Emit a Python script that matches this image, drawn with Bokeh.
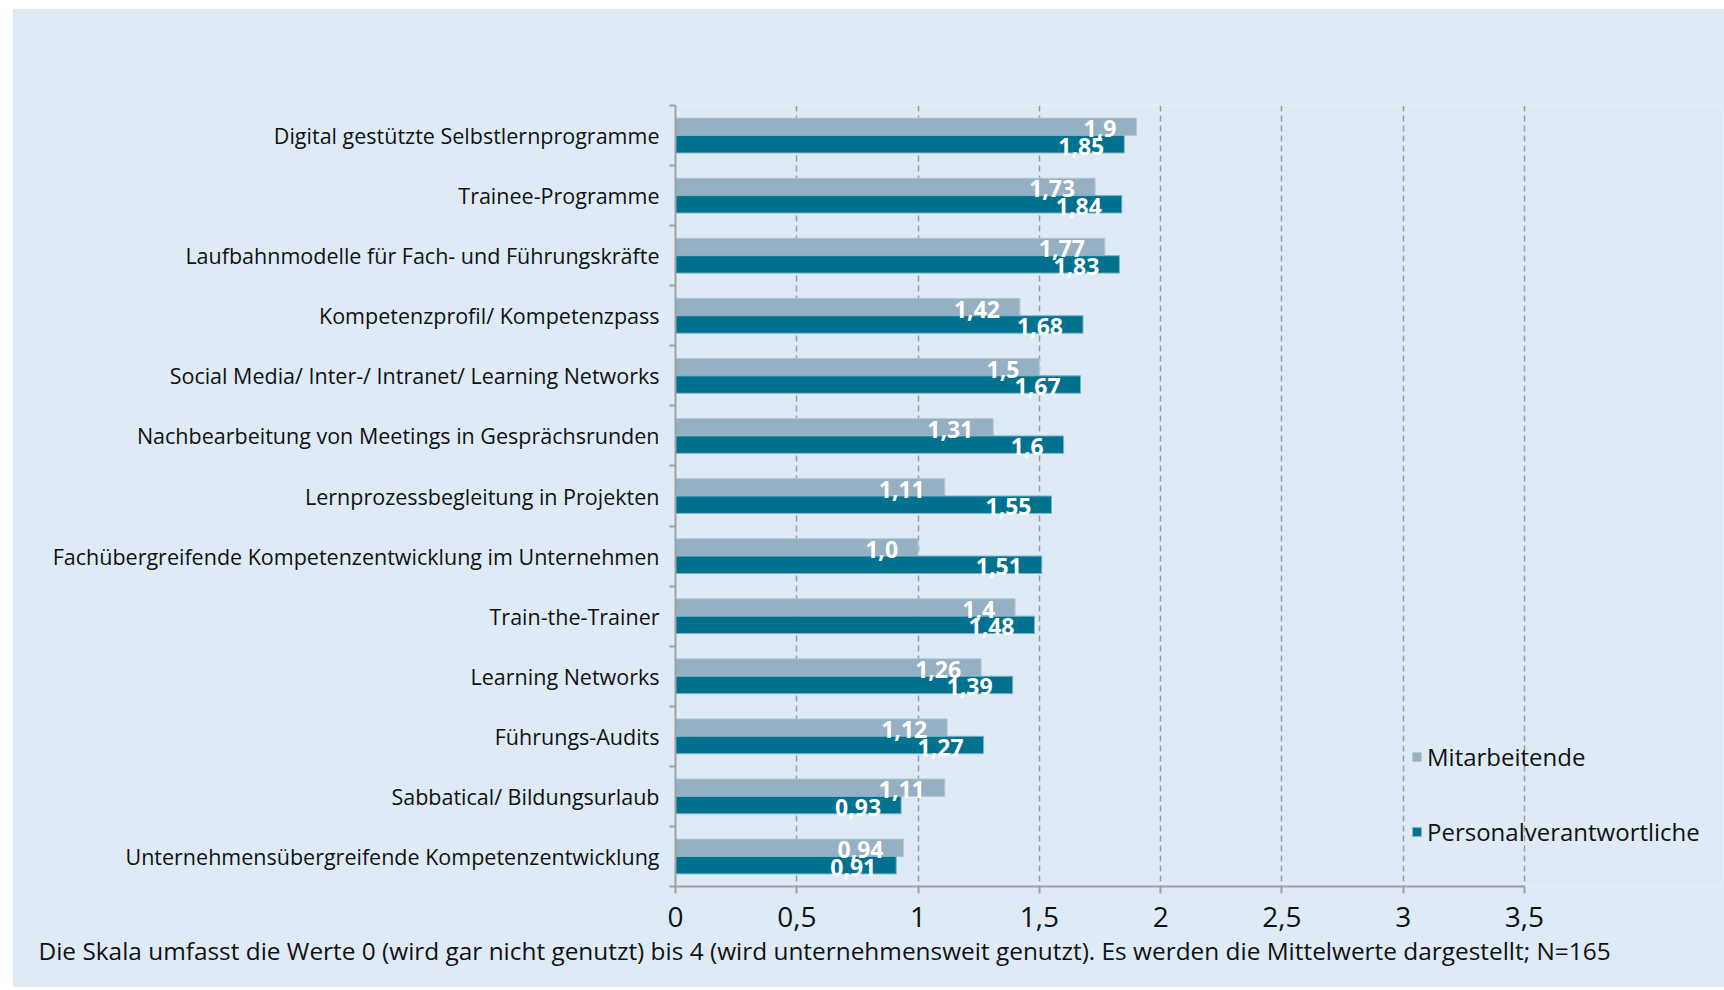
from bokeh.plotting import figure
from bokeh.models import (Range1d, FixedTicker, ColumnDataSource, Legend, LegendItem, Title)
from bokeh.core.properties import value
from bokeh.embed import file_html
from bokeh.resources import INLINE

categories = [
    "Digital gestützte Selbstlernprogramme",
    "Trainee-Programme",
    "Laufbahnmodelle für Fach- und Führungskräfte",
    "Kompetenzprofil/ Kompetenzpass",
    "Social Media/ Inter-/ Intranet/ Learning Networks",
    "Nachbearbeitung von Meetings in Gesprächsrunden",
    "Lernprozessbegleitung in Projekten",
    "Fachübergreifende Kompetenzentwicklung im Unternehmen",
    "Train-the-Trainer",
    "Learning Networks",
    "Führungs-Audits",
    "Sabbatical/ Bildungsurlaub",
    "Unternehmensübergreifende Kompetenzentwicklung",
]
mitarbeitende = [1.9, 1.73, 1.77, 1.42, 1.5, 1.31, 1.11, 1.0, 1.4, 1.26, 1.12, 1.11, 0.94]
personal = [1.85, 1.84, 1.83, 1.68, 1.67, 1.6, 1.55, 1.51, 1.48, 1.39, 1.27, 0.93, 0.91]
mitarbeitende_labels = ["1,9", "1,73", "1,77", "1,42", "1,5", "1,31", "1,11", "1,0", "1,4", "1,26", "1,12", "1,11", "0,94"]
personal_labels = ["1,85", "1,84", "1,83", "1,68", "1,67", "1,6", "1,55", "1,51", "1,48", "1,39", "1,27", "0,93", "0,91"]
xticks = [0, 0.5, 1, 1.5, 2, 2.5, 3, 3.5]
xtick_labels = ["0", "0,5", "1", "1,5", "2", "2,5", "3", "3,5"]
series_names = ["Mitarbeitende", "Personalverantwortliche"]
footnote = ("Die Skala umfasst die Werte 0 (wird gar nicht genutzt) bis 4 "
            "(wird unternehmensweit genutzt). Es werden die Mittelwerte dargestellt; N=165")

FONT = "Open Sans"
BG = "#DEEBF6"
GRAY = "#96B0C3"
TEAL = "#00728F"
AXIS = "#A0A0A0"

# page geometry (pixels)
OX, OY = 12, 8                # top-left of the light-blue panel
W, H = 1712, 979
FRAME_L, FRAME_T, FRAME_B = 675, 105, 886
AXIS_END_PX = 1524            # pixel position of the value 3.5
FRAME_R = 1722
x_max = 3.5
x_end = x_max * (FRAME_R - FRAME_L) / (AXIS_END_PX - FRAME_L)

n = len(categories)
bar_h = 0.29
centers = [i + 0.5 for i in range(n)]

src_m = ColumnDataSource(dict(y=[c - bar_h / 2 for c in centers], x=mitarbeitende, lab=mitarbeitende_labels))
src_p = ColumnDataSource(dict(y=[c + bar_h / 2 for c in centers], x=personal, lab=personal_labels))

p = figure(width=W, height=H, output_backend="svg", toolbar_location=None,
           x_range=Range1d(0, x_end), y_range=Range1d(n, 0),
           min_border_left=FRAME_L - OX, min_border_right=OX + W - FRAME_R,
           min_border_top=FRAME_T - OY, min_border_bottom=OY + H - FRAME_B)
p.margin = (OY, 0, 0, OX)
p.background_fill_color = BG
p.border_fill_color = BG
p.outline_line_color = None

r_m = p.hbar(y="y", right="x", left=0, height=bar_h, source=src_m,
             fill_color=GRAY, line_color="#B4C8D6", line_width=1)
r_p = p.hbar(y="y", right="x", left=0, height=bar_h, source=src_p,
             fill_color=TEAL, line_color="#7FB2C4", line_width=1)

for src in (src_m, src_p):
    p.text(x="x", y="y", text="lab", source=src, text_align="right", text_baseline="middle",
           x_offset=-20, y_offset=2, text_color="white", text_font=value(FONT),
           text_font_style="bold", text_font_size="23px")

# y axis
ya = p.yaxis[0]
ya.ticker = FixedTicker(ticks=centers, minor_ticks=list(range(n + 1)))
ya.major_label_overrides = {c: name for c, name in zip(centers, categories)}
ya.major_tick_out = 0
ya.major_tick_in = 0
ya.minor_tick_out = 6
ya.minor_tick_in = 0
ya.minor_tick_line_color = AXIS
ya.minor_tick_line_width = 2
ya.axis_line_color = AXIS
ya.axis_line_width = 2
ya.major_label_standoff = 10
ya.major_label_text_font = FONT
ya.major_label_text_font_size = "21.5px"
ya.major_label_text_color = "#111111"

# x axis
xa = p.xaxis[0]
xa.ticker = FixedTicker(ticks=xticks)
xa.bounds = (0, x_max)
xa.major_label_overrides = {float(t): l for t, l in zip(xticks, xtick_labels)}
xa.major_tick_out = 7
xa.major_tick_in = 0
xa.major_tick_line_color = AXIS
xa.major_tick_line_width = 2
xa.minor_tick_line_color = None
xa.axis_line_color = AXIS
xa.axis_line_width = 2
xa.major_label_standoff = 13
xa.major_label_text_font = FONT
xa.major_label_text_font_size = "28px"
xa.major_label_text_color = "#111111"

p.ygrid.grid_line_color = None
p.xgrid.ticker = FixedTicker(ticks=xticks[1:])
p.xgrid.grid_line_color = "#9A9A9A"
p.xgrid.grid_line_width = 1.5
p.xgrid.grid_line_dash = "6 4"

legend = Legend(items=[LegendItem(label=series_names[0], renderers=[r_m]),
                       LegendItem(label=series_names[1], renderers=[r_p])],
                location=(1411 - FRAME_L, 38), orientation="vertical",
                background_fill_alpha=0, border_line_alpha=0,
                padding=0, margin=0, spacing=42,
                glyph_width=11, glyph_height=11, label_height=22, label_standoff=5,
                label_text_font=FONT, label_text_font_size="24px", label_text_color="#111111")
p.add_layout(legend, "center")

p.add_layout(Title(text=footnote, align="left", offset=38 - FRAME_L, text_font=FONT,
                   text_font_size="24.4px", text_font_style="normal", text_color="#111111",
                   standoff=4), "below")

open("out.html", "w").write(file_html(p, INLINE))
